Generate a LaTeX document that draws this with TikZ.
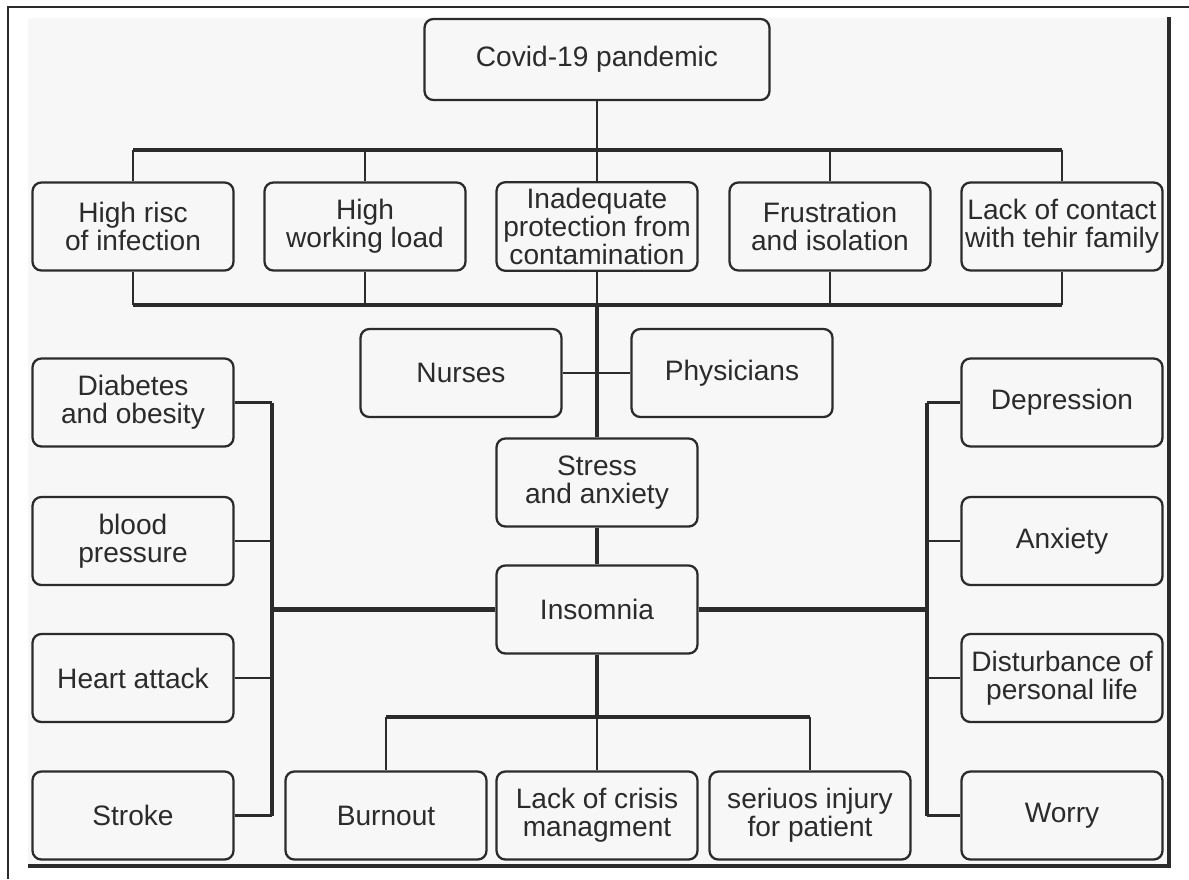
\documentclass[tikz,border=0pt]{standalone}
\usepackage{fontspec}
\setmainfont{Liberation Sans}
\definecolor{ink}{HTML}{2B2B2B}
\definecolor{paper}{HTML}{F7F7F7}

\begin{document}
\begin{tikzpicture}[x=0.02cm, y=-0.02cm,
    box/.style={draw=ink, line width=1.3pt, rounded corners=5pt, align=center, text=ink,
                font=\fontsize{16}{16}\selectfont, inner xsep=2pt,
                minimum width=4.02cm, minimum height=1.76cm},
    thinline/.style={draw=ink, line width=1.2pt},
    thickline/.style={draw=ink, line width=2.8pt}]
        \useasboundingbox (0,0) rectangle (1189,879);
        \fill[paper] (28,18) rectangle (1168,864);
        \draw[ink, line width=0.7pt] (1189,7) -- (8,7) -- (8,879);
        \draw[ink, line width=2.4pt] (1169,17) -- (1169,866) -- (28,866);

        \node[box, minimum width=6.9cm, minimum height=1.62cm] at (597, 59.5)  (covid)   {Covid-19 pandemic};

        \node[box] at (133, 226.5)   (risk)    {High risc\\of infection};
        \node[box] at (365, 226.5)   (load)    {High\\working load};
        \node[box] at (597, 226.5)   (protect) {Inadequate\\protection from\\contamination};
        \node[box] at (830, 226.5)   (frust)   {Frustration\\and isolation};
        \node[box] at (1062, 226.5)  (contact) {Lack of contact\\with tehir family};

        \node[box] at (461, 373)     (nurses)  {Nurses};
        \node[box] at (732, 373)     (phys)    {Physicians};
        \node[box] at (597, 482.5)   (stress)  {Stress\\and anxiety};
        \node[box] at (597, 609.5)   (insom)   {Insomnia};

        \node[box] at (133, 402.5)   (diab)    {Diabetes\\and obesity};
        \node[box] at (133, 541)     (blood)   {blood\\pressure};
        \node[box] at (133, 678)     (heart)   {Heart attack};
        \node[box] at (133, 815.5)   (stroke)  {Stroke};

        \node[box] at (386, 815.5)   (burn)    {Burnout};
        \node[box] at (597, 815.5)   (crisis)  {Lack of crisis\\managment};
        \node[box] at (810, 815.5)   (injury)  {seriuos injury\\for patient};

        \node[box] at (1062, 402.5)  (depr)    {Depression};
        \node[box] at (1062, 541)    (anx)     {Anxiety};
        \node[box] at (1062, 678)    (dist)    {Disturbance of\\personal life};
        \node[box] at (1062, 815.5)  (worry)   {Worry};

        \coordinate (topbar) at (597, 150);
        \coordinate (midbar) at (597, 305);
        \coordinate (lowbar) at (597, 717);
        \coordinate (lbus)   at (272, 609.5);
        \coordinate (rbus)   at (927, 609.5);

        \draw[thinline]  (covid) -- (protect);
        \draw[thickline] (risk.north |- topbar) -- (contact.north |- topbar);
        \draw[thinline]  (risk.north) -- (risk.north |- topbar);
        \draw[thinline]  (load.north) -- (load.north |- topbar);
        \draw[thinline]  (frust.north) -- (frust.north |- topbar);
        \draw[thinline]  (contact.north) -- (contact.north |- topbar);

        \draw[thickline] (risk.south |- midbar) -- (contact.south |- midbar);
        \draw[thinline]  (risk.south) -- (risk.south |- midbar);
        \draw[thinline]  (load.south) -- (load.south |- midbar);
        \draw[thinline]  (protect.south) -- (midbar);
        \draw[thinline]  (frust.south) -- (frust.south |- midbar);
        \draw[thinline]  (contact.south) -- (contact.south |- midbar);

        \draw[thickline] (midbar) -- (stress.north);
        \draw[thinline]  (nurses) -- (phys);
        \draw[thickline] (stress) -- (insom);

        \draw[thickline] (insom.south) -- (lowbar);
        \draw[thickline] (burn.north |- lowbar) -- (injury.north |- lowbar);
        \draw[thinline]  (burn.north |- lowbar) -- (burn.north);
        \draw[thinline]  (lowbar) -- (crisis.north);
        \draw[thinline]  (injury.north |- lowbar) -- (injury.north);

        \draw[thickline] (insom.west) -- (lbus);
        \draw[thickline] (lbus |- diab.east) -- (lbus |- stroke.east);
        \draw[thinline]  (diab.east) -- (lbus |- diab.east);
        \draw[thinline]  (blood.east) -- (lbus |- blood.east);
        \draw[thinline]  (heart.east) -- (lbus |- heart.east);
        \draw[thinline]  (stroke.east) -- (lbus |- stroke.east);

        \draw[thickline] (insom.east) -- (rbus);
        \draw[thickline] (rbus |- depr.west) -- (rbus |- worry.west);
        \draw[thinline]  (depr.west) -- (rbus |- depr.west);
        \draw[thinline]  (anx.west) -- (rbus |- anx.west);
        \draw[thinline]  (dist.west) -- (rbus |- dist.west);
        \draw[thinline]  (worry.west) -- (rbus |- worry.west);
      \end{tikzpicture}
\end{document}
